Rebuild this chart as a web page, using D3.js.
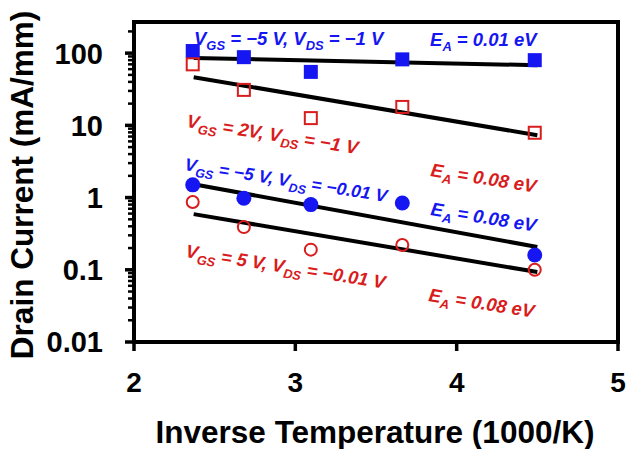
<!DOCTYPE html>
<html>
<head>
<meta charset="utf-8">
<script src="https://cdn.jsdelivr.net/npm/d3@7"></script>
<style>
  body { margin: 0; background: #fff; }
  svg { display: block; font-family: "Liberation Sans", Arial, Helvetica, sans-serif; font-weight: bold; }
</style>
</head>
<body>
<svg id="chart" width="628" height="449"></svg>
<script>
// inverse temperature (1000/K) for each measurement
var invTemp = [2.364, 2.681, 3.096, 3.663, 4.484];

// drain current, mA/mm
var sqBlue = [107, 88, 55, 82, 80];       // VGS=-5, VDS=-1
var sqRed = [70, 31, 12.6, 18, 7.9];      // VGS=2, VDS=-1
var circBlue = [1.5, 0.98, 0.8, 0.84, 0.16]; // VGS=-5, VDS=-0.01
var circRed = [0.87, 0.39, 0.19, 0.22, 0.10]; // VGS=5, VDS=-0.01

// fitted Arrhenius lines (start / end)
var fitX = [2.37, 4.5];
var fitSqBlue = [86, 68];
var fitSqRed = [46.5, 7.3];
var fitCircBlue = [1.53, 0.207];
var fitCircRed = [0.59, 0.093];

var xTicks = [2, 3, 4, 5];
var yTicks = [0.01, 0.1, 1, 10, 100];
var yTickLabels = ["0.01", "0.1", "1", "10", "100"];

var blue = "#1616f2";
var red = "#d91c1c";

// annotation anchors in data units, parts with sub flag
var notes = [
	{x: 2.372, y: 129, rot: 0, size: 18.5, color: blue, parts: [["V"], ["GS", 1], [" = \u22125 V, V"], ["DS", 1], [" = \u22121 V"]]},
	{x: 3.835, y: 126, rot: 0, size: 18.5, color: blue, parts: [["E"], ["A", 1], [" = 0.01 eV"]]},
	{x: 2.322, y: 9.5, rot: 9, size: 18.5, color: red, parts: [["V"], ["GS", 1], [" = 2V, V"], ["DS", 1], [" = \u22121 V"]]},
	{x: 2.31, y: 2.41, rot: 9, size: 17.6, color: blue, parts: [["V"], ["GS", 1], [" = \u22125 V, V"], ["DS", 1], [" = \u22120.01 V"]]},
	{x: 2.316, y: 0.15, rot: 9, size: 18.3, color: red, parts: [["V"], ["GS", 1], [" = 5 V, V"], ["DS", 1], [" = \u22120.01 V"]]},
	{x: 3.835, y: 1.99, rot: 9, size: 18.5, color: red, parts: [["E"], ["A", 1], [" = 0.08 eV"]]},
	{x: 3.835, y: 0.573, rot: 9, size: 18.5, color: blue, parts: [["E"], ["A", 1], [" = 0.08 eV"]]},
	{x: 3.822, y: 0.037, rot: 9, size: 18.5, color: red, parts: [["E"], ["A", 1], [" = 0.08 eV"]]}
];

var svg = d3.select("#chart");
var plotLeft = 134, plotRight = 618, plotTop = 22, plotBottom = 342;

var x = d3.scaleLinear().domain([2, 5]).range([plotLeft, plotRight]);
var y = d3.scaleLog().domain([0.01, 270]).range([plotBottom, plotTop]);

svg.append("rect").attr("width", 628).attr("height", 449).attr("fill", "#fff");

// minor ticks on y
var minor = [];
for (var d = 0.01; d < 270; d *= 10) {
	for (var k = 2; k <= 9; k++) {
		if (d * k <= 270) minor.push(d * k);
	}
}
svg.append("g").selectAll("line").data(minor).enter().append("line")
	.attr("x1", plotLeft - 6).attr("x2", plotLeft)
	.attr("y1", function (d) { return y(d); }).attr("y2", function (d) { return y(d); })
	.attr("stroke", "#000").attr("stroke-width", 2.5);

// major ticks on y
svg.append("g").selectAll("line").data(yTicks).enter().append("line")
	.attr("x1", plotLeft - 9).attr("x2", plotLeft)
	.attr("y1", function (d) { return y(d); }).attr("y2", function (d) { return y(d); })
	.attr("stroke", "#000").attr("stroke-width", 3.5);

svg.append("g").selectAll("text").data(yTicks).enter().append("text")
	.attr("x", 103).attr("y", function (d) { return y(d); })
	.attr("dy", "0.36em").attr("text-anchor", "end")
	.attr("font-size", 29)
	.text(function (d, i) { return yTickLabels[i]; });

// x ticks
svg.append("g").selectAll("line").data(xTicks).enter().append("line")
	.attr("x1", function (d) { return x(d); }).attr("x2", function (d) { return x(d); })
	.attr("y1", plotBottom).attr("y2", plotBottom + 9)
	.attr("stroke", "#000").attr("stroke-width", 3.5);

svg.append("g").selectAll("text").data(xTicks).enter().append("text")
	.attr("x", function (d) { return x(d); }).attr("y", 392)
	.attr("text-anchor", "middle").attr("font-size", 28)
	.text(function (d) { return d; });

// frame
svg.append("rect")
	.attr("x", plotLeft).attr("y", plotTop)
	.attr("width", plotRight - plotLeft).attr("height", plotBottom - plotTop)
	.attr("fill", "none").attr("stroke", "#000").attr("stroke-width", 4);

// fit lines
var fits = [fitSqBlue, fitSqRed, fitCircBlue, fitCircRed];
var line = d3.line()
	.x(function (d, i) { return x(fitX[i]); })
	.y(function (d) { return y(d); });
svg.append("g").selectAll("path").data(fits).enter().append("path")
	.attr("d", line)
	.attr("fill", "none").attr("stroke", "#000").attr("stroke-width", 4);

// markers
svg.append("g").selectAll("rect").data(sqBlue).enter().append("rect")
	.attr("x", function (d, i) { return x(invTemp[i]) - 7; })
	.attr("y", function (d) { return y(d) - 7; })
	.attr("width", 14).attr("height", 14)
	.attr("fill", blue);

svg.append("g").selectAll("rect").data(sqRed).enter().append("rect")
	.attr("x", function (d, i) { return x(invTemp[i]) - 6; })
	.attr("y", function (d) { return y(d) - 6; })
	.attr("width", 12).attr("height", 12)
	.attr("fill", "none").attr("stroke", red).attr("stroke-width", 2);

svg.append("g").selectAll("circle").data(circBlue).enter().append("circle")
	.attr("cx", function (d, i) { return x(invTemp[i]); })
	.attr("cy", function (d) { return y(d); })
	.attr("r", 7.5).attr("fill", blue);

svg.append("g").selectAll("circle").data(circRed).enter().append("circle")
	.attr("cx", function (d, i) { return x(invTemp[i]); })
	.attr("cy", function (d) { return y(d); })
	.attr("r", 6).attr("fill", "none").attr("stroke", red).attr("stroke-width", 2);

// annotations
notes.forEach(function (n) {
	var t = svg.append("text")
		.attr("transform", "translate(" + x(n.x) + "," + y(n.y) + ") rotate(" + n.rot + ")")
		.attr("fill", n.color)
		.attr("font-size", n.size)
		.attr("font-style", "italic");
	var shifted = false;
	n.parts.forEach(function (p) {
		var s = t.append("tspan").text(p[0]);
		if (p[1]) {
			s.attr("font-size", n.size * 0.7).attr("dy", 5);
			shifted = true;
		} else if (shifted) {
			s.attr("dy", -5);
			shifted = false;
		}
	});
});

// axis titles
svg.append("text")
	.attr("x", 375).attr("y", 443)
	.attr("text-anchor", "middle").attr("font-size", 31.5)
	.text("Inverse Temperature (1000/K)");

svg.append("text")
	.attr("transform", "translate(33,185) rotate(-90)")
	.attr("text-anchor", "middle").attr("font-size", 31.5)
	.text("Drain Current (mA/mm)");
</script>
</body>
</html>
